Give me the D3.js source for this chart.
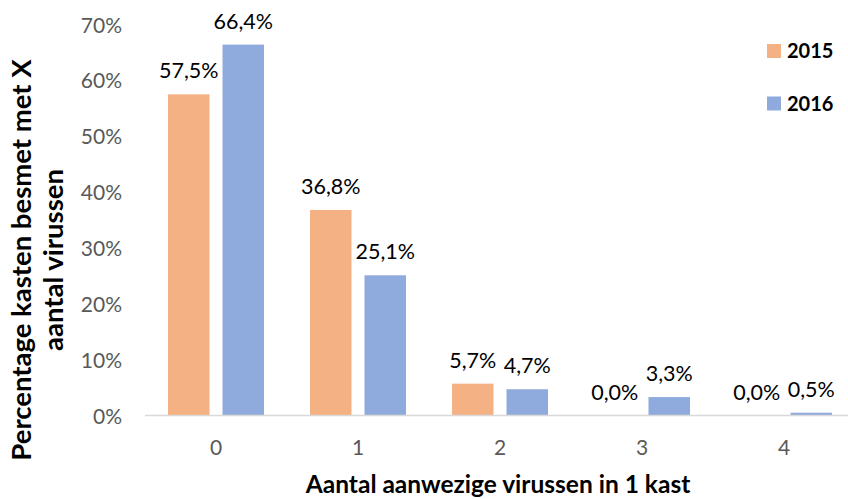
<!DOCTYPE html>
<html>
<head>
<meta charset="utf-8">
<script src="https://cdn.jsdelivr.net/npm/d3@7"></script>
<style>
  html, body { margin: 0; padding: 0; background: #fff; }
  svg { display: block; font-family: Lato, "Open Sans", sans-serif; }
</style>
</head>
<body>
<div id="chart"></div>
<script>
const categories = ["0", "1", "2", "3", "4"];
const seriesNames = ["2015", "2016"];
const values2015 = [57.5, 36.8, 5.7, 0.0, 0.0];
const values2016 = [66.4, 25.1, 4.7, 3.3, 0.5];
const yTicks = [0, 10, 20, 30, 40, 50, 60, 70];
const colors = { "2015": "#F4B183", "2016": "#8FAADC" };

const width = 848;
const height = 499;

const svg = d3.select("#chart")
  .append("svg")
  .attr("width", width)
  .attr("height", height);

// Scales
const x0 = d3.scaleBand()
  .domain(categories)
  .range([145, 855])
  .paddingInner(0)
  .paddingOuter(0);

const x1 = d3.scaleBand()
  .domain(seriesNames)
  .range([0, x0.bandwidth()])
  .paddingInner(0.2385)
  .paddingOuter(0.4218);

const y = d3.scaleLinear()
  .domain([0, 70])
  .range([415.5, 24.5]);

const rows = categories.map((c, i) => ({
  cat: c,
  vals: [
    { name: "2015", value: values2015[i] },
    { name: "2016", value: values2016[i] }
  ]
}));

// Y axis labels
const yAxis = d3.axisLeft(y)
  .tickValues(yTicks)
  .tickFormat(d => d + "%")
  .tickSize(0)
  .tickPadding(0);

svg.append("g")
  .attr("transform", "translate(122,0)")
  .call(yAxis)
  .call(g => g.select(".domain").remove())
  .call(g => g.selectAll("text")
    .attr("fill", "#595959")
    .attr("dy", "0.36em")
    .style("font-family", "Lato, sans-serif")
    .style("font-size", "21px"));

// Bars
const groups = svg.selectAll(".cat")
  .data(rows)
  .enter()
  .append("g")
  .attr("class", "cat")
  .attr("transform", d => `translate(${x0(d.cat)},0)`);

groups.selectAll("rect")
  .data(d => d.vals)
  .enter()
  .append("rect")
  .attr("x", d => x1(d.name))
  .attr("y", d => y(d.value))
  .attr("width", x1.bandwidth())
  .attr("height", d => y(0) - y(d.value))
  .attr("fill", d => colors[d.name]);

// Data labels
groups.selectAll(".label")
  .data(d => d.vals)
  .enter()
  .append("text")
  .attr("class", "label")
  .attr("x", d => x1(d.name) + x1.bandwidth() / 2)
  .attr("y", d => y(d.value) - 16)
  .attr("text-anchor", "middle")
  .attr("fill", "#000")
  .style("font-size", "21.5px")
  .text(d => d.value.toFixed(1).replace(".", ",") + "%");

// X axis
const xAxis = d3.axisBottom(x0)
  .tickSize(0)
  .tickPadding(0);

svg.append("g")
  .attr("transform", `translate(0,${y(0)})`)
  .call(xAxis)
  .call(g => g.select(".domain")
    .attr("stroke", "#D9D9D9")
    .attr("stroke-width", 1.5)
    .attr("d", `M${x0.range()[0]},0H${width}`))
  .call(g => g.selectAll("text")
    .attr("fill", "#595959")
    .attr("y", 31.5)
    .attr("dy", "0.36em")
    .style("font-family", "Lato, sans-serif")
    .style("font-size", "21px"));

// Axis titles
svg.append("text")
  .attr("x", 498)
  .attr("y", 493)
  .attr("text-anchor", "middle")
  .attr("font-weight", "bold")
  .attr("fill", "#000")
  .style("font-size", "24.5px")
  .text("Aantal aanwezige virussen in 1 kast");

const yTitle = svg.append("text")
  .attr("transform", "translate(0,260) rotate(-90)")
  .attr("text-anchor", "middle")
  .attr("font-weight", "bold")
  .attr("fill", "#000")
  .style("font-size", "27.5px");

yTitle.append("tspan").attr("x", 0).attr("y", 31).text("Percentage kasten besmet met X");
yTitle.append("tspan").attr("x", 0).attr("y", 63).text("aantal virussen");

// Legend
const legend = svg.selectAll(".legend")
  .data(seriesNames)
  .enter()
  .append("g")
  .attr("class", "legend")
  .attr("transform", (d, i) => `translate(767,${44 + i * 52.5})`);

legend.append("rect")
  .attr("width", 14)
  .attr("height", 14)
  .attr("fill", d => colors[d]);

legend.append("text")
  .attr("x", 20)
  .attr("y", 7)
  .attr("dy", "0.36em")
  .attr("font-weight", "bold")
  .attr("fill", "#000")
  .style("font-size", "20px")
  .text(d => d);
</script>
</body>
</html>
